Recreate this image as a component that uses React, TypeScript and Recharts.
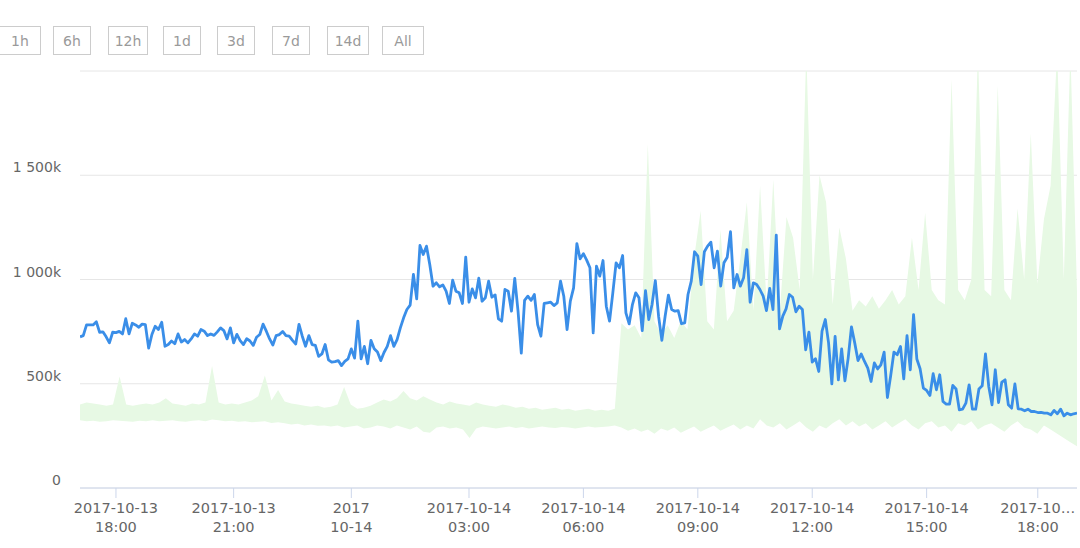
import React from "react";
import { ComposedChart, Line, Area, XAxis, YAxis, CartesianGrid } from "recharts";

// ---------- DATA ----------
const rangeButtons = ["1h", "6h", "12h", "1d", "3d", "7d", "14d", "All"];

// blue line, values in thousands (uniform ordinal points)
const lineK = [
  725, 731, 782, 782, 782, 797, 747, 749, 725, 696,
  747, 745, 751, 739, 812, 739, 790, 782, 771, 786,
  783, 671, 736, 776, 760, 795, 680, 688, 705, 692,
  739, 700, 712, 696, 715, 739, 728, 760, 752, 731,
  739, 732, 749, 768, 755, 715, 768, 696, 737, 707,
  688, 716, 705, 684, 723, 736, 786, 752, 715, 686,
  731, 736, 751, 731, 728, 708, 691, 785, 728, 680,
  731, 688, 684, 631, 643, 688, 615, 604, 606,
  611, 587, 607, 619, 667, 623, 800, 619, 679, 596,
  708, 668, 652, 611, 650, 679, 731, 679, 712, 768,
  816, 856, 877, 1024, 907, 1163, 1120, 1160, 1072, 968,
  984, 965, 974, 944, 885, 997, 944, 936, 885, 1107,
  891, 955, 912, 1006, 896, 912, 992, 915, 926, 811,
  800, 952, 944, 848, 1005, 848, 647, 900, 920, 900,
  928, 784, 728, 885, 888, 891, 875, 888, 992, 920,
  760, 896, 960, 1172, 1099, 1124, 1093, 1056,
  744, 1064, 1016, 1091, 872, 800, 936, 1080, 1056, 1115,
  840, 787, 880, 936, 912, 755, 947, 808, 880, 995,
  824, 708, 824, 925, 856, 848, 851, 788, 792, 928,
  992, 1133, 1112, 976, 1133, 1160, 1179, 1056, 1136, 968,
  1080, 1107, 1229, 960, 1024, 968, 1008, 1143, 891, 984,
  976, 952, 920, 851, 957, 856, 1213, 763, 824, 859,
  928, 915, 845, 872, 856, 663, 748, 604, 620, 559,
  752, 808, 696, 499, 727,
  519, 667, 514, 623, 773, 696, 611, 643, 607, 575,
  511, 600, 571, 591, 652, 434, 538, 652, 639, 679,
  523, 731, 567, 832, 619, 572, 479, 468, 444, 548,
  471, 543, 415, 402, 402, 492, 475, 375, 378, 407,
  495, 378, 378, 475, 490, 643, 487, 399, 567, 410,
  508, 519, 399, 383, 499, 380, 378, 370, 378, 367,
  367, 362, 363, 359, 359, 351, 372, 356, 378, 346,
  359, 351, 356, 359,
];

// green min/max band, values in thousands
const bandLowK = [
  325, 320, 322, 318, 320, 325, 322, 320, 318, 322,
  320, 325, 320, 322, 325, 320, 318, 322, 325, 320,
  328, 325, 320, 322, 318, 320, 315, 318, 320, 312,
  315, 310, 305, 308, 300, 305, 298, 300, 295, 300,
  290, 295, 300, 285, 290, 300, 295, 285, 300, 290,
  280, 295, 270, 265, 290, 295, 285, 290, 280, 240,
  285, 295, 290, 285, 290, 295, 288, 292, 285, 290,
  295, 290, 288, 292, 290, 285, 290, 295, 290, 292,
  295, 300, 290, 275, 285, 270, 280, 260, 285, 275,
  290, 265, 280, 295, 270, 285, 300, 275, 290, 305,
  280, 300, 285, 330, 300, 290, 310, 280, 300, 320,
  290, 270, 300, 285, 310, 330, 300, 320, 295, 310,
  280, 300, 320, 290, 310, 330, 300, 280, 310, 320,
  290, 300, 270, 310, 300, 320, 280, 300, 310, 290,
  270, 300, 320, 290, 280, 260, 300, 280, 260, 240,
  220, 200,
];
const bandHighK = [
  400, 410, 405, 400, 395, 400, 535, 400, 395, 400,
  405, 400, 410, 430, 405, 400, 395, 405, 400, 410,
  585, 410, 400, 405, 400, 410, 420, 440, 540, 420,
  470, 415, 405, 400, 395, 390, 395, 385, 390, 400,
  485, 400, 380, 385, 395, 410, 425, 415, 430, 465,
  430, 420, 440, 425, 410, 400, 415, 405, 400, 395,
  410, 400, 395, 390, 400, 395, 385, 390, 380, 385,
  375, 380, 385, 375, 380, 370, 375, 380, 370, 375,
  370, 380, 790, 760, 780, 720, 1650, 800, 740, 780,
  720, 800, 760, 1100, 1330, 800, 760, 1240, 800, 850,
  1100, 1370, 850, 1450, 880, 1480, 850, 1300, 1200, 950,
  2100, 1000, 1500, 1370, 880, 1250, 1100, 850, 900, 870,
  920, 860, 900, 950, 880, 920, 1200, 950, 1320, 950,
  900, 880, 1960, 950, 900, 1000, 2100, 950, 920, 1930,
  950, 900, 1340, 1000, 1700, 980, 1290, 1450, 2100, 1000,
  2100, 940,
];

// x axis (ordinal point index) ticks and their labels
const xTickIndex = [11, 47, 83, 119, 154, 189, 224, 259, 293];
const xTickTop = ["2017-10-13", "2017-10-13", "2017", "2017-10-14", "2017-10-14", "2017-10-14", "2017-10-14", "2017-10-14", "2017-10\u2026"];
const xTickBottom = ["18:00", "21:00", "10-14", "03:00", "06:00", "09:00", "12:00", "15:00", "18:00"];

// y axis
const yTickValues = [0, 500000, 1000000, 1500000, 2000000];
const yTickLabels = ["0", "500k", "1 000k", "1 500k", ""];

// ---------- BUILD ----------
const lastIndex = lineK.length - 1;
const lineData = lineK.map((v, i) => ({ x: i, value: v * 1000 }));
const bandData = bandLowK.map((lo, j) => ({
  x: (j * lastIndex) / (bandLowK.length - 1),
  range: [lo * 1000, bandHighK[j] * 1000],
}));

const FONT = '"Lucida Grande", "DejaVu Sans", sans-serif';

const XTick = (props: any) => {
  const { x, y, payload } = props;
  const idx = xTickIndex.indexOf(payload.value);
  if (idx < 0) return null;
  return (
    <text x={x} y={y} textAnchor="middle" fill="#666666" fontSize={14.5} fontFamily={FONT}>
      <tspan x={x} dy={13}>{xTickTop[idx]}</tspan>
      <tspan x={x} dy={18.5}>{xTickBottom[idx]}</tspan>
    </text>
  );
};

const YTick = (props: any) => {
  const { x, y, payload } = props;
  const idx = yTickValues.indexOf(payload.value);
  const label = idx >= 0 ? yTickLabels[idx] : "";
  return (
    <text x={x} y={y - 3} textAnchor="end" fill="#666666" fontSize={14} fontFamily={FONT}>
      {label}
    </text>
  );
};

const buttonCenters = [20, 72, 128, 182, 236, 291, 348, 403];
const buttonWidths = [42, 38, 40, 38, 38, 38, 42, 42];

export default function App() {
  return (
    <div style={{ position: "absolute", left: 0, top: 0, width: 1080, height: 548, background: "#ffffff", overflow: "hidden" }}>
      {rangeButtons.map((b, k) => (
        <div
          key={b}
          style={{
            position: "absolute",
            top: 26,
            left: buttonCenters[k] - buttonWidths[k] / 2,
            width: buttonWidths[k],
            height: 29,
            boxSizing: "border-box",
            border: "1px solid #cccccc",
            color: "#9a9a9a",
            fontFamily: FONT,
            fontSize: 14,
            display: "flex",
            alignItems: "center",
            justifyContent: "center",
            background: "#ffffff",
            zIndex: 2,
          }}
        >
          {b}
        </div>
      ))}
      <ComposedChart width={1080} height={548} margin={{ top: 71, right: 3, bottom: 0, left: 0 }}>
        <CartesianGrid vertical={false} stroke="#e6e6e6" />
        <XAxis
          type="number"
          dataKey="x"
          domain={[0, lastIndex]}
          allowDataOverflow
          ticks={xTickIndex}
          interval={0}
          height={60}
          tickSize={10}
          axisLine={{ stroke: "#ccd6eb" }}
          tickLine={{ stroke: "#ccd6eb" }}
          tick={<XTick />}
        />
        <YAxis
          type="number"
          domain={[0, 2000000]}
          allowDataOverflow
          ticks={yTickValues}
          interval={0}
          width={80}
          axisLine={false}
          tickLine={false}
          tickSize={0}
          tickMargin={19}
          tick={<YTick />}
        />
        <Area
          data={bandData}
          dataKey="range"
          type="linear"
          stroke="none"
          fill="#e7f9e4"
          fillOpacity={1}
          isAnimationActive={false}
        />
        <Line
          data={lineData}
          dataKey="value"
          type="linear"
          stroke="#3a8ee8"
          strokeWidth={2.8}
          strokeLinejoin="round"
          dot={false}
          activeDot={false}
          isAnimationActive={false}
        />
      </ComposedChart>
    </div>
  );
}
